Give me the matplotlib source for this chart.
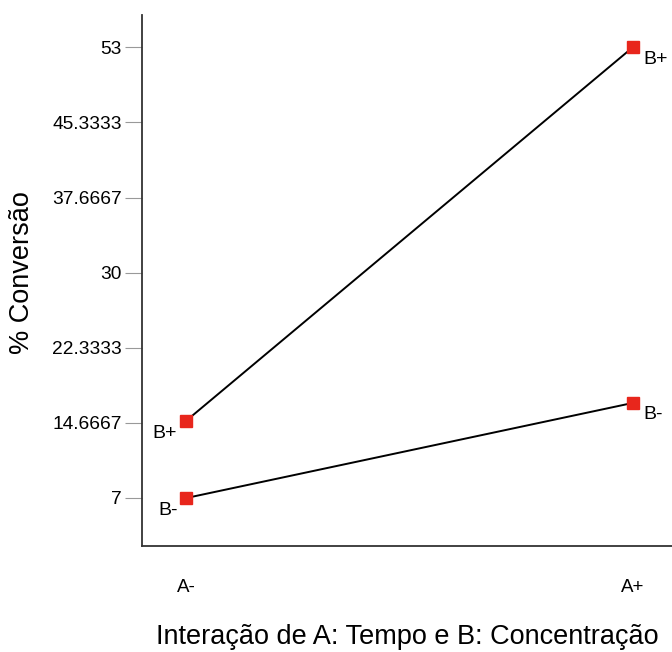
import matplotlib.pyplot as plt

plt.rcParams['font.family'] = ['Liberation Sans', 'DejaVu Sans']

a_levels = ["A-", "A+"]
b_plus = [14.9, 53.0]
b_minus = [7.0, 16.7]
y_ticks = [7, 14.6667, 22.3333, 30, 37.6667, 45.3333, 53]
y_tick_labels = ["7", "14.6667", "22.3333", "30", "37.6667", "45.3333", "53"]

fig = plt.figure(figsize=(6.72, 6.52), dpi=100)
ax = fig.add_axes([0.211, 0.1626, 0.789, 0.8144])

x = list(range(len(a_levels)))
red = '#e8261c'
ax.plot(x, b_plus, color='black', lw=1.4, marker='s', ms=8.5,
        mfc=red, mec=red, zorder=3)
ax.plot(x, b_minus, color='black', lw=1.4, marker='s', ms=8.5,
        mfc=red, mec=red, zorder=3)

# labels next to the points
offsets = {(0, 'B+'): (-22, -13), (1, 'B+'): (23, -12),
           (0, 'B-'): (-18, -13), (1, 'B-'): (20, -12)}
for name, vals in [('B+', b_plus), ('B-', b_minus)]:
    for i, v in enumerate(vals):
        ax.annotate(name, xy=(i, v), xytext=offsets[(i, name)],
                    textcoords='offset pixels', ha='center', va='center',
                    fontsize=14)

ax.set_xlim(-0.1, 1.088)
ax.set_ylim(2.1, 56.3)
ax.set_yticks(y_ticks)
ax.set_yticklabels(y_tick_labels, fontsize=13.8)
ax.set_xticks(x)
ax.set_xticklabels(a_levels, fontsize=13.5)
ax.tick_params(axis='y', length=12, color='#999999', width=0.8, pad=2.5)
ax.tick_params(axis='x', length=0, pad=24)

ax.spines['top'].set_visible(False)
ax.spines['right'].set_visible(False)
ax.spines['left'].set_color('#333333')
ax.spines['bottom'].set_color('#333333')
ax.spines['left'].set_linewidth(1.3)
ax.spines['bottom'].set_linewidth(1.3)

ax.set_ylabel("% Conversão", fontsize=19.5, labelpad=12)
ax.yaxis.label.set_y(0.515)
ax.set_xlabel("Interação de A: Tempo e B: Concentração", fontsize=19.5, labelpad=20)

fig.savefig("out.png", dpi=100)
